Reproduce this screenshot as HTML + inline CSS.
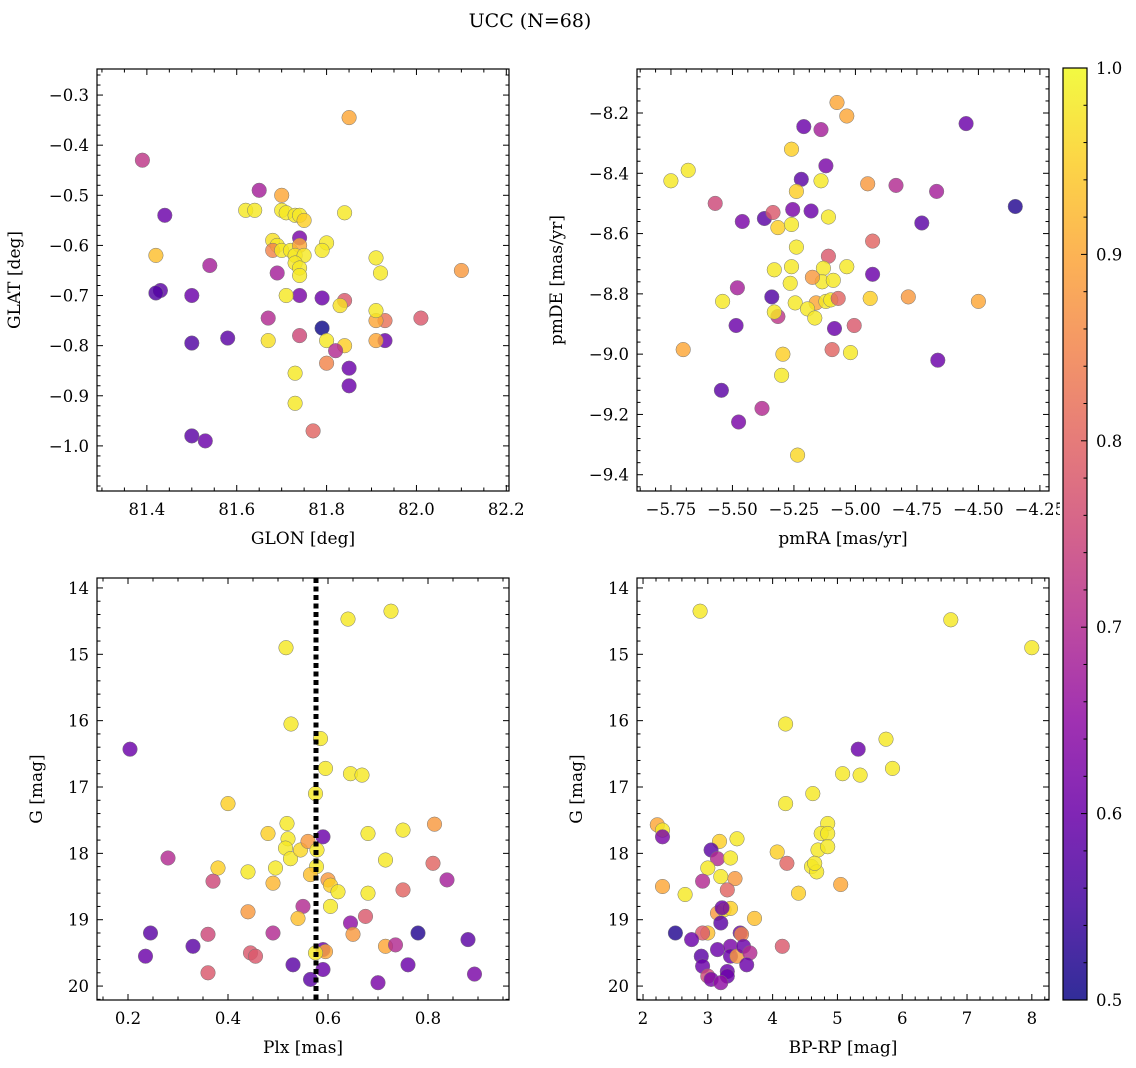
<!DOCTYPE html>
<html><head><meta charset="utf-8">
<style>
html,body{margin:0;padding:0;background:#fff;}
svg{display:block;font-family:"DejaVu Serif","Liberation Serif",serif;}
</style></head>
<body>
<svg id="chart" width="1136" height="1068" viewBox="0 0 1136 1068" xmlns="http://www.w3.org/2000/svg">
<rect width="1136" height="1068" fill="#fff"/>
<text x="530" y="27" font-size="19" text-anchor="middle">UCC (N=68)</text>
</svg>
<script>
// ---- Panel 1: GLON vs GLAT ----
const glonVals=[81.39,81.85,81.44,81.42,81.43,81.42,81.50,81.54,81.50,81.58,81.50,81.53,81.65,81.62,81.64,81.70,81.70,81.71,81.73,81.74,81.75,81.74,81.68,81.69,81.68,81.70,81.72,81.74,81.73,81.75,81.73,81.74,81.74,81.69,81.74,81.71,81.80,81.79,81.84,81.67,81.67,81.74,81.79,81.79,81.84,81.83,81.80,81.84,81.80,81.82,81.85,81.85,81.73,81.73,81.77,81.93,81.91,81.93,81.91,81.91,81.92,81.91,82.01,82.10];
const glatVals=[-0.43,-0.345,-0.54,-0.62,-0.69,-0.695,-0.70,-0.64,-0.795,-0.785,-0.98,-0.99,-0.49,-0.53,-0.53,-0.50,-0.53,-0.535,-0.54,-0.54,-0.55,-0.585,-0.59,-0.60,-0.61,-0.61,-0.61,-0.60,-0.62,-0.62,-0.635,-0.645,-0.66,-0.655,-0.70,-0.70,-0.595,-0.61,-0.535,-0.745,-0.79,-0.78,-0.705,-0.765,-0.71,-0.72,-0.79,-0.80,-0.835,-0.81,-0.845,-0.88,-0.855,-0.915,-0.97,-0.79,-0.79,-0.75,-0.75,-0.73,-0.655,-0.625,-0.745,-0.65];
const probP1=[0.72,0.9,0.6,0.93,0.58,0.57,0.6,0.68,0.57,0.58,0.58,0.6,0.68,0.98,0.98,0.9,0.98,0.98,0.98,0.98,0.95,0.62,0.97,0.98,0.85,0.98,0.98,0.9,0.98,0.98,0.98,0.98,0.98,0.68,0.62,0.98,0.98,0.98,0.98,0.7,0.97,0.75,0.6,0.5,0.78,0.97,0.98,0.95,0.85,0.7,0.6,0.6,0.98,0.98,0.8,0.6,0.9,0.82,0.9,0.98,0.98,0.98,0.78,0.88];
// ---- Panel 2: pmRA vs pmDE ----
const pmraVals=[-5.075,-5.035,-5.21,-5.14,-4.55,-5.26,-5.12,-5.68,-5.75,-5.22,-5.14,-5.24,-4.95,-4.835,-4.67,-4.35,-5.57,-5.46,-5.37,-5.335,-5.255,-5.18,-5.11,-5.315,-5.26,-4.73,-5.24,-4.93,-5.11,-5.33,-5.26,-5.13,-5.035,-4.93,-5.135,-5.265,-5.175,-5.09,-5.34,-5.315,-5.33,-5.48,-5.54,-5.245,-5.16,-5.12,-5.10,-5.07,-5.195,-5.165,-4.94,-4.785,-4.50,-5.485,-5.085,-5.005,-5.095,-5.02,-5.70,-5.295,-5.30,-5.545,-5.38,-5.475,-4.665,-5.235];
const pmdeVals=[-8.165,-8.21,-8.245,-8.255,-8.235,-8.32,-8.375,-8.39,-8.425,-8.42,-8.425,-8.46,-8.435,-8.44,-8.46,-8.51,-8.50,-8.56,-8.55,-8.53,-8.52,-8.525,-8.545,-8.58,-8.57,-8.565,-8.645,-8.625,-8.675,-8.72,-8.71,-8.715,-8.71,-8.735,-8.76,-8.765,-8.745,-8.755,-8.81,-8.875,-8.86,-8.78,-8.825,-8.83,-8.83,-8.825,-8.82,-8.815,-8.85,-8.88,-8.815,-8.81,-8.825,-8.905,-8.915,-8.905,-8.985,-8.995,-8.985,-9.0,-9.07,-9.12,-9.18,-9.225,-9.02,-9.335];
const probP2=[0.9,0.9,0.6,0.68,0.6,0.95,0.62,0.98,0.98,0.58,0.98,0.95,0.88,0.7,0.68,0.52,0.75,0.62,0.58,0.78,0.62,0.6,0.98,0.95,0.98,0.58,0.98,0.8,0.78,0.98,0.98,0.98,0.98,0.6,0.98,0.98,0.88,0.98,0.57,0.72,0.98,0.68,0.98,0.98,0.9,0.98,0.98,0.8,0.98,0.98,0.95,0.88,0.9,0.6,0.6,0.78,0.8,0.98,0.9,0.95,0.98,0.58,0.7,0.62,0.6,0.96];
// ---- Panel 3: Plx vs G ----
const plxVals=[0.726,0.64,0.516,0.204,0.526,0.585,0.595,0.645,0.668,0.40,0.575,0.48,0.518,0.52,0.515,0.525,0.545,0.59,0.56,0.578,0.577,0.68,0.75,0.813,0.28,0.38,0.37,0.44,0.495,0.49,0.60,0.605,0.62,0.565,0.715,0.81,0.838,0.75,0.68,0.55,0.605,0.44,0.54,0.36,0.49,0.245,0.33,0.235,0.445,0.455,0.36,0.53,0.565,0.59,0.59,0.595,0.575,0.645,0.65,0.675,0.715,0.735,0.78,0.76,0.70,0.88,0.893];
const gP3Vals=[14.35,14.47,14.9,16.43,16.05,16.27,16.72,16.8,16.82,17.25,17.1,17.7,17.55,17.78,17.92,18.08,17.95,17.75,17.82,17.95,18.2,17.7,17.65,17.56,18.07,18.22,18.42,18.28,18.22,18.45,18.4,18.48,18.58,18.32,18.1,18.15,18.4,18.55,18.6,18.8,18.8,18.88,18.98,19.22,19.2,19.2,19.4,19.55,19.5,19.55,19.8,19.68,19.9,19.45,19.75,19.48,19.5,19.05,19.22,18.95,19.4,19.38,19.2,19.68,19.95,19.3,19.82];
const probP3=[0.98,0.98,0.98,0.6,0.98,0.98,0.98,0.98,0.98,0.95,0.98,0.95,0.98,0.98,0.98,0.98,0.96,0.6,0.88,0.98,0.98,0.98,0.98,0.88,0.7,0.95,0.75,0.98,0.98,0.92,0.88,0.95,0.98,0.93,0.98,0.8,0.68,0.8,0.98,0.7,0.98,0.88,0.93,0.75,0.7,0.58,0.58,0.6,0.78,0.78,0.78,0.58,0.58,0.6,0.6,0.9,0.98,0.65,0.88,0.78,0.9,0.7,0.52,0.6,0.62,0.58,0.62];
const plxLine=0.576;
// ---- Panel 4: BP-RP vs G ----
const bprpVals=[2.88,6.75,8.0,4.2,5.75,5.32,5.85,4.62,5.08,5.35,4.2,2.22,2.3,2.3,3.18,3.45,4.85,4.75,4.85,3.05,3.15,3.35,4.07,4.7,4.85,2.3,2.65,3.0,3.2,3.42,3.3,2.92,4.22,4.4,4.6,4.68,4.65,5.05,3.15,3.25,3.35,3.22,3.72,3.2,3.0,2.92,3.5,3.52,2.5,2.75,3.15,3.35,3.35,3.45,3.55,3.65,3.6,2.9,2.92,3.0,3.05,3.3,3.3,3.2,4.15];
const gP4Vals=[14.35,14.48,14.9,16.05,16.28,16.43,16.72,17.1,16.8,16.82,17.25,17.57,17.65,17.75,17.82,17.78,17.55,17.7,17.7,17.95,18.08,18.07,17.98,17.95,17.9,18.5,18.62,18.22,18.35,18.38,18.55,18.42,18.15,18.6,18.2,18.28,18.15,18.47,18.9,18.85,18.83,18.82,18.98,19.05,19.2,19.2,19.2,19.22,19.2,19.3,19.45,19.4,19.55,19.55,19.4,19.5,19.68,19.55,19.7,19.85,19.9,19.78,19.85,19.95,19.4];
const probP4=[0.98,0.98,0.98,0.98,0.98,0.6,0.98,0.98,0.98,0.98,0.98,0.9,0.98,0.62,0.95,0.98,0.98,0.98,0.98,0.58,0.7,0.98,0.95,0.98,0.98,0.9,0.98,0.98,0.98,0.88,0.8,0.7,0.8,0.95,0.98,0.98,0.98,0.9,0.88,0.98,0.95,0.6,0.93,0.58,0.93,0.78,0.6,0.85,0.52,0.6,0.6,0.62,0.6,0.88,0.6,0.7,0.6,0.58,0.6,0.75,0.62,0.6,0.6,0.65,0.78];

const cbTicks=[0.5,0.6,0.7,0.8,0.9,1.0];

const NS="http://www.w3.org/2000/svg";
const svg=document.getElementById('chart');
function mk(tag,attrs,parent){const e=document.createElementNS(NS,tag);for(const k in attrs)e.setAttribute(k,attrs[k]);(parent||svg).appendChild(e);return e;}
const stops=["#0d0887","#41049d","#6a00a8","#8f0da4","#b12a90","#cc4778","#e16462","#f2844b","#fca636","#fcce25","#f0f921"];
function hex2(h){return [parseInt(h.substr(1,2),16),parseInt(h.substr(3,2),16),parseInt(h.substr(5,2),16)];}
function plasma(p){let t=Math.max(0,Math.min(1,(p-0.5)/0.5))*10;let i=Math.min(9,Math.floor(t));let f=t-i;const a=hex2(stops[i]),b=hex2(stops[i+1]);return 'rgb('+a.map((v,k)=>Math.round(v+(b[k]-v)*f)).join(',')+')';}
function fmt(v,d){let s=Math.abs(v).toFixed(d);return (v< -1e-9?'\u2212':'')+s;}
const TF=16.5;

function panel(cfg){
  const {x0,y0,x1,y1,xmin,xmax,ymin,ymax,yinv}=cfg;
  const sx=v=>x0+(v-xmin)/(xmax-xmin)*(x1-x0);
  const sy=v=>yinv? y0+(v-ymin)/(ymax-ymin)*(y1-y0) : y1-(v-ymin)/(ymax-ymin)*(y1-y0);
  const g=mk('g',{});
  
  
  const clipId='c'+cfg.name;
  const cp=mk('clipPath',{id:clipId},g);mk('rect',{x:x0,y:y0,width:x1-x0,height:y1-y0},cp);
  const pts=mk('g',{'clip-path':'url(#'+clipId+')'},g);
  
  
  cfg.xs.forEach((xv,i)=>{
    const c=mk('circle',{cx:sx(xv).toFixed(1),cy:sy(cfg.ys[i]).toFixed(1),r:7.3,fill:plasma(cfg.cs[i]),'fill-opacity':0.82,stroke:'#777','stroke-width':0.5},pts);
    
    
  });
  if(cfg.vline!==undefined){
    const l=mk('line',{x1:sx(cfg.vline),x2:sx(cfg.vline),y1:y0,y2:y1,stroke:'#000','stroke-width':5,'stroke-dasharray':'5,3.5'},pts);
    
    
  }
  const fr=mk('rect',{x:x0,y:y0,width:x1-x0,height:y1-y0,fill:'none',stroke:'#000','stroke-width':1.2},g);
  
  
  const tk=mk('g',{stroke:'#000','stroke-width':1},g);
  const eps=1e-9;
  for(let v=Math.ceil((xmin)/cfg.xminor-eps)*cfg.xminor;v<=xmax+eps;v+=cfg.xminor){
    const X=sx(v);const maj=Math.abs(v/cfg.xmajor-Math.round(v/cfg.xmajor))<1e-4;const L=maj?6:3.5;
    mk('line',{x1:X,x2:X,y1:y1,y2:y1-L},tk);mk('line',{x1:X,x2:X,y1:y0,y2:y0+L},tk);
    if(maj){const t=mk('text',{x:X,y:y1+24,'font-size':TF,'text-anchor':'middle',stroke:'none'},g);t.textContent=fmt(v,cfg.xdec);
      }
  }
  for(let v=Math.ceil((ymin)/cfg.yminor-eps)*cfg.yminor;v<=ymax+eps;v+=cfg.yminor){
    const Y=sy(v);const maj=Math.abs(v/cfg.ymajor-Math.round(v/cfg.ymajor))<1e-4;const L=maj?6:3.5;
    mk('line',{x1:x0,x2:x0+L,y1:Y,y2:Y},tk);mk('line',{x1:x1,x2:x1-L,y1:Y,y2:Y},tk);
    if(maj){const t=mk('text',{x:x0-8,y:Y+6,'font-size':TF,'text-anchor':'end',stroke:'none'},g);t.textContent=fmt(v,cfg.ydec);
      }
  }
  const xl=mk('text',{x:(x0+x1)/2,y:y1+53,'font-size':17,'text-anchor':'middle'},g);xl.textContent=cfg.xlabel;
  
  const yx=x0-cfg.ylabOff, yy=(y0+y1)/2;
  const yl=mk('text',{x:yx,y:yy,'font-size':17,'text-anchor':'middle',transform:'rotate(-90 '+yx+' '+yy+')'},g);yl.textContent=cfg.ylabel;
  
}
panel({name:'glon-glat-panel',x0:97,y0:69,x1:509,y1:491,xmin:81.289,xmax:82.206,ymin:-1.090,ymax:-0.248,xmajor:0.2,xminor:0.05,ymajor:0.1,yminor:0.02,xdec:1,ydec:1,xs:glonVals,ys:glatVals,cs:probP1,xlabel:'GLON [deg]',ylabel:'GLAT [deg]',ylabOff:77});
panel({name:'pm-panel',x0:637,y0:69,x1:1049,y1:491,xmin:-5.888,xmax:-4.213,ymin:-9.454,ymax:-8.054,xmajor:0.25,xminor:0.0625,ymajor:0.2,yminor:0.04,xdec:2,ydec:1,xs:pmraVals,ys:pmdeVals,cs:probP2,xlabel:'pmRA [mas/yr]',ylabel:'pmDE [mas/yr]',ylabOff:75});
panel({name:'plx-g-panel',x0:97,y0:578,x1:509,y1:1000,xmin:0.138,xmax:0.962,ymin:13.85,ymax:20.21,yinv:true,xmajor:0.2,xminor:0.05,ymajor:1,yminor:0.2,xdec:1,ydec:0,xs:plxVals,ys:gP3Vals,cs:probP3,vline:plxLine,xlabel:'Plx [mas]',ylabel:'G [mag]',ylabOff:55});
panel({name:'cmd-panel',x0:637,y0:578,x1:1049,y1:1000,xmin:1.907,xmax:8.265,ymin:13.85,ymax:20.21,yinv:true,xmajor:1,xminor:0.2,ymajor:1,yminor:0.2,xdec:0,ydec:0,xs:bprpVals,ys:gP4Vals,cs:probP4,xlabel:'BP-RP [mag]',ylabel:'G [mag]',ylabOff:55});

(function(){
  const x0=1063,x1=1087,y0=68,y1=1000;
  const cover=mk('rect',{x:1060,y:480,width:76,height:40,fill:'#fff'});
  
  const defs=mk('defs',{});
  const lg=mk('linearGradient',{id:'plasmaGrad',x1:0,y1:1,x2:0,y2:0},defs);
  stops.forEach((s,i)=>mk('stop',{offset:(i/10),'stop-color':s,'stop-opacity':0.85},lg));
  const r=mk('rect',{x:x0,y:y0,width:x1-x0,height:y1-y0,fill:'url(#plasmaGrad)',stroke:'#000','stroke-width':1.2});
  
  const sy=v=>y1-(v-0.5)/0.5*(y1-y0);
  for(let v=0.5;v<=1.0001;v+=0.02){
    const Y=sy(v);const maj=Math.abs(v*10-Math.round(v*10))<1e-4;
    mk('line',{x1:x1,x2:x1-(maj?6:3.5),y1:Y,y2:Y,stroke:'#000','stroke-width':1});
  }
  cbTicks.forEach(v=>{const t=mk('text',{x:x1+9,y:sy(v)+6,'font-size':TF});t.textContent=v.toFixed(1);
    });
})();
</script>
</body></html>
